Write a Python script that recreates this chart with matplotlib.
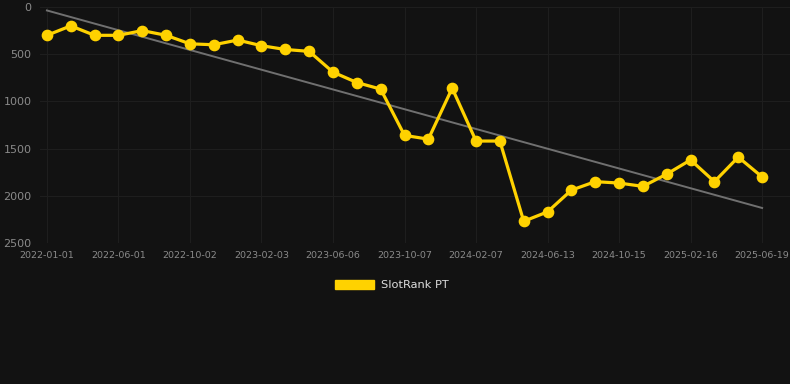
import matplotlib
matplotlib.use("Agg")
import matplotlib.pyplot as plt
import matplotlib.patches as mpatches
import numpy as np

# rank per period (lower is better, axis inverted)
ranks = [300, 200, 300, 300, 250, 300, 390, 400, 350, 410, 450, 470,
         690, 800, 870, 1360, 1400, 860, 1420, 1420, 2270, 2170, 1940,
         1850, 1865, 1900, 1770, 1620, 1850, 1590, 1800]
tick_labels = ["2022-01-01", "2022-06-01", "2022-10-02", "2023-02-03",
               "2023-06-06", "2023-10-07", "2024-02-07", "2024-06-13",
               "2024-10-15", "2025-02-16", "2025-06-19"]
series_name = "SlotRank PT"

bg = "#121212"
gold = "#FFD200"

x = np.arange(len(ranks))

fig = plt.figure(figsize=(7.9, 3.84), dpi=100, facecolor=bg)
ax = fig.add_axes([40 / 790, 1 - 243 / 384, 750 / 790, 236 / 384])
ax.set_facecolor(bg)

# trend line from linear fit
k, b = np.polyfit(x, ranks, 1)
ax.plot(x, k * x + b, color="#707070", lw=1.4, zorder=2)

ax.plot(x, ranks, color=gold, lw=2.3, marker="o", ms=7.4,
        markerfacecolor=gold, markeredgecolor=gold, zorder=3)

ax.set_ylim(2500, 0)
ax.set_yticks([0, 500, 1000, 1500, 2000, 2500])
ax.set_xlim(-0.29, len(ranks) - 1 + 1.17)
ax.set_xticks(x[::3])
ax.set_xticklabels(tick_labels)

ax.grid(True, color="#1e1e1e", lw=0.8)
ax.set_axisbelow(True)
for s in ax.spines.values():
    s.set_visible(False)
ax.tick_params(axis="y", colors="#8a8a8a", labelsize=8, length=0, pad=6)
ax.tick_params(axis="x", colors="#8a8a8a", labelsize=6.8, length=0, pad=6)

handle = mpatches.Patch(color=gold, label=series_name)
fig.legend(handles=[handle], loc="center", bbox_to_anchor=(392 / 790, 1 - 285 / 384),
           frameon=False, labelcolor="#dddddd", fontsize=8.2,
           handlelength=3.4, handleheight=0.9, handletextpad=0.6)

fig.savefig("out.png", dpi=100, facecolor=bg)
